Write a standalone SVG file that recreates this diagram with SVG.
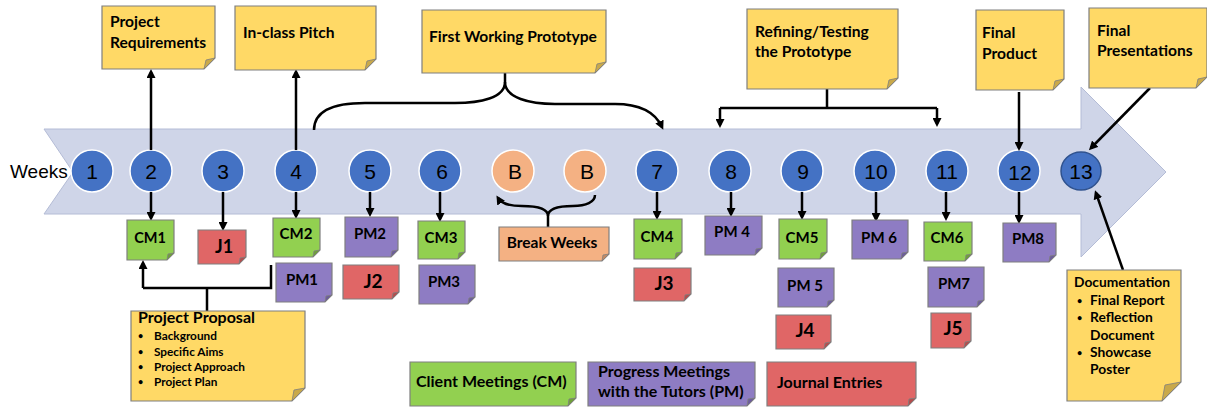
<svg xmlns="http://www.w3.org/2000/svg" width="1207" height="408" viewBox="0 0 1207 408">
<style>
.note{stroke:#7f7f7f;stroke-width:1.2}
.y{fill:#ffd966}.g{fill:#92d050}.p{fill:#8e7cc3}.r{fill:#e06666}.o{fill:#f4b183}
.fold{fill:#c9a94a;stroke:#7f7f7f;stroke-width:0.8}
.gf{fill:#6f9f3a}.pf{fill:#6c5d9a}.rf{fill:#b34d4d}.of{fill:#c48a63}
.t{font-family:Lato,"Liberation Sans",sans-serif;font-weight:bold;fill:#000}
.wk{fill:#4472c4;stroke:#fff;stroke-width:1.5}
.bk{fill:#f4b183;stroke:#fff;stroke-width:1.5}
.num{font-family:"Liberation Sans",Arial,sans-serif;font-size:21px;fill:#000;text-anchor:middle}
.ln{fill:none;stroke:#000;stroke-width:2.5}
.c{text-anchor:middle}
.bul{font-size:9px}
</style>
<defs>
<marker id="ah" markerWidth="9" markerHeight="9" refX="6" refY="4.5" orient="auto" markerUnits="userSpaceOnUse">
<path d="M0,0 L9,4.5 L0,9 z" fill="#000"/>
</marker>
</defs>

<g id="timeline">
<polygon points="44,129 1081,129 1081,87 1166,172 1081,257 1081,214 44,214 73,172" fill="#cfd5e8" stroke="#b4bcd6" stroke-width="1"/>
<text x="10" y="178" font-family="'Liberation Sans',Arial,sans-serif" font-size="19" fill="#000">Weeks</text>
</g>

<g id="weeks">
<g id="w1"><circle class="wk" cx="92" cy="171" r="21"/><text class="num" x="92" y="179">1</text></g>
<g id="w2"><circle class="wk" cx="151" cy="171" r="21"/><text class="num" x="151" y="179">2</text></g>
<g id="w3"><circle class="wk" cx="223" cy="171" r="21"/><text class="num" x="223" y="179">3</text></g>
<g id="w4"><circle class="wk" cx="296" cy="171" r="21"/><text class="num" x="296" y="179">4</text></g>
<g id="w5"><circle class="wk" cx="370" cy="171" r="21"/><text class="num" x="370" y="179">5</text></g>
<g id="w6"><circle class="wk" cx="440" cy="171" r="21"/><text class="num" x="442" y="179">6</text></g>
<g id="b1"><circle class="bk" cx="513" cy="171" r="21"/><text class="num" x="515" y="179">B</text></g>
<g id="b2"><circle class="bk" cx="585" cy="171" r="21"/><text class="num" x="587" y="179">B</text></g>
<g id="w7"><circle class="wk" cx="657" cy="171" r="21"/><text class="num" x="657" y="179">7</text></g>
<g id="w8"><circle class="wk" cx="730" cy="171" r="21"/><text class="num" x="731" y="179">8</text></g>
<g id="w9"><circle class="wk" cx="802" cy="171" r="21"/><text class="num" x="803" y="179">9</text></g>
<g id="w10"><circle class="wk" cx="875" cy="171" r="21"/><text class="num" x="876" y="179">10</text></g>
<g id="w11"><circle class="wk" cx="947" cy="171" r="21"/><text class="num" x="947" y="179">11</text></g>
<g id="w12"><circle class="wk" cx="1019" cy="171" r="21"/><text class="num" x="1020" y="180">12</text></g>
<g id="w13"><ellipse cx="1081" cy="171" rx="20" ry="19" fill="#4472c4" stroke="#2f528f" stroke-width="1.5"/><text class="num" x="1081" y="179">13</text></g>
</g>

<g id="connectors">
<path class="ln" d="M151,150 V72" marker-end="url(#ah)"/>
<path class="ln" d="M296,150 V72" marker-end="url(#ah)"/>
<path class="ln" d="M505,73 V82 C505,98 480,103 455,103 L365,103 C330,103 314,112 314,130"/>
<path class="ln" d="M505,82 C505,98 530,104 555,104 L615,104 C640,104 655,112 662,127" marker-end="url(#ah)"/>
<path class="ln" d="M827,89 V108 M720,108 H937"/>
<path class="ln" d="M720,108 V125" marker-end="url(#ah)"/>
<path class="ln" d="M937,108 V124" marker-end="url(#ah)"/>
<path class="ln" d="M1019,92 V148" marker-end="url(#ah)"/>
<path class="ln" d="M1150,88 L1091,148" marker-end="url(#ah)"/>
<path class="ln" d="M1123,270 L1096,193" marker-end="url(#ah)"/>
<path class="ln" d="M151,192 V218" marker-end="url(#ah)"/>
<path class="ln" d="M223,192 V228" marker-end="url(#ah)"/>
<path class="ln" d="M296,192 V216" marker-end="url(#ah)"/>
<path class="ln" d="M370,192 V214" marker-end="url(#ah)"/>
<path class="ln" d="M440,192 V219" marker-end="url(#ah)"/>
<path class="ln" d="M657,192 V217" marker-end="url(#ah)"/>
<path class="ln" d="M731,192 V214" marker-end="url(#ah)"/>
<path class="ln" d="M802,192 V217" marker-end="url(#ah)"/>
<path class="ln" d="M876,192 V219" marker-end="url(#ah)"/>
<path class="ln" d="M946,192 V218" marker-end="url(#ah)"/>
<path class="ln" d="M1019,192 V221" marker-end="url(#ah)"/>
<path class="ln" d="M207,311 V288 M143,288 H271 V265"/>
<path class="ln" d="M143,288 V263" marker-end="url(#ah)"/>
<path class="ln" d="M548,227 V216 C548,208 535,206 522,206 C509,206 501,203 498,198" marker-end="url(#ah)"/>
<path class="ln" d="M548,216 C548,208 560,206 573,206 C586,206 595,202 595,195"/>
</g>

<g id="note-requirements" transform="translate(102,6)">
<path class="note y" d="M0,0 H113 V52 L102,63 H0 Z"/><path class="fold" d="M113,52 L102,63 L104,54 Z"/>
<text class="t" font-size="15.6" x="8" y="21">Project</text><text class="t" font-size="15.6" x="8" y="42">Requirements</text>
</g>
<g id="note-pitch" transform="translate(235,6)">
<path class="note y" d="M0,0 H141 V53 L130,64 H0 Z"/><path class="fold" d="M141,53 L130,64 L132,55 Z"/>
<text class="t" font-size="15.6" x="8" y="32">In-class Pitch</text>
</g>
<g id="note-prototype" transform="translate(422,10)">
<path class="note y" d="M0,0 H184 V52 L173,63 H0 Z"/><path class="fold" d="M184,52 L173,63 L175,54 Z"/>
<text class="t" font-size="15.6" x="7" y="32">First Working Prototype</text>
</g>
<g id="note-refining" transform="translate(747,9)">
<path class="note y" d="M0,0 H151 V69 L140,80 H0 Z"/><path class="fold" d="M151,69 L140,80 L142,71 Z"/>
<text class="t" font-size="15.6" x="8" y="28">Refining/Testing</text><text class="t" font-size="15.6" x="8" y="48">the Prototype</text>
</g>
<g id="note-final-product" transform="translate(976,10)">
<path class="note y" d="M0,0 H88 V69 L77,80 H0 Z"/><path class="fold" d="M88,69 L77,80 L79,71 Z"/>
<text class="t" font-size="15.6" x="6" y="28">Final</text><text class="t" font-size="15.6" x="6" y="49">Product</text>
</g>
<g id="note-final-presentations" transform="translate(1089,8)">
<path class="note y" d="M0,0 H118 V69 L107,80 H0 Z"/><path class="fold" d="M118,69 L107,80 L109,71 Z"/>
<text class="t" font-size="15.6" x="8" y="28">Final</text><text class="t" font-size="15.6" x="8" y="48">Presentations</text>
</g>

<g id="cm1" transform="translate(127,220)">
<path class="note g" d="M0,0 H47 V33 L40,40 H0 Z"/><path class="fold gf" d="M47,33 L40,40 L41,34 Z"/>
<text class="t c" font-size="14.5" x="23" y="23">CM1</text>
</g>
<g id="j1" transform="translate(198,230)">
<path class="note r" d="M0,0 H48 V27 L41,34 H0 Z"/><path class="fold rf" d="M48,27 L41,34 L42,28 Z"/>
<text class="t c" font-size="18" x="26" y="23">J1</text>
</g>
<g id="cm2" transform="translate(273,218)">
<path class="note g" d="M0,0 H47 V32 L40,39 H0 Z"/><path class="fold gf" d="M47,32 L40,39 L41,33 Z"/>
<text class="t c" font-size="15" x="23" y="21">CM2</text>
</g>
<g id="pm1" transform="translate(276,263)">
<path class="note p" d="M0,0 H56 V32 L49,39 H0 Z"/><path class="fold pf" d="M56,32 L49,39 L50,33 Z"/>
<text class="t c" font-size="15" x="26" y="22">PM1</text>
</g>
<g id="pm2" transform="translate(345,217)">
<path class="note p" d="M0,0 H53 V33 L46,40 H0 Z"/><path class="fold pf" d="M53,33 L46,40 L47,34 Z"/>
<text class="t c" font-size="15" x="25" y="22">PM2</text>
</g>
<g id="j2" transform="translate(343,265)">
<path class="note r" d="M0,0 H56 V27 L49,34 H0 Z"/><path class="fold rf" d="M56,27 L49,34 L50,28 Z"/>
<text class="t c" font-size="19" x="30" y="23">J2</text>
</g>
<g id="cm3" transform="translate(418,221)">
<path class="note g" d="M0,0 H47 V31 L40,38 H0 Z"/><path class="fold gf" d="M47,31 L40,38 L41,32 Z"/>
<text class="t c" font-size="15" x="23" y="22">CM3</text>
</g>
<g id="pm3" transform="translate(419,265)">
<path class="note p" d="M0,0 H56 V32 L49,39 H0 Z"/><path class="fold pf" d="M56,32 L49,39 L50,33 Z"/>
<text class="t c" font-size="15" x="25" y="22">PM3</text>
</g>
<g id="break-weeks" transform="translate(499,227)">
<path class="note o" d="M0,0 H110 V27 L103,34 H0 Z"/><path class="fold of" d="M110,27 L103,34 L104,28 Z"/>
<text class="t c" font-size="15.5" x="53" y="21">Break Weeks</text>
</g>
<g id="cm4" transform="translate(634,219)">
<path class="note g" d="M0,0 H48 V33 L41,40 H0 Z"/><path class="fold gf" d="M48,33 L41,40 L42,34 Z"/>
<text class="t c" font-size="15" x="23" y="23">CM4</text>
</g>
<g id="j3" transform="translate(634,268)">
<path class="note r" d="M0,0 H57 V26 L50,33 H0 Z"/><path class="fold rf" d="M57,26 L50,33 L51,27 Z"/>
<text class="t c" font-size="19" x="30" y="22">J3</text>
</g>
<g id="pm4" transform="translate(705,216)">
<path class="note p" d="M0,0 H57 V32 L50,39 H0 Z"/><path class="fold pf" d="M57,32 L50,39 L51,33 Z"/>
<text class="t c" font-size="15" x="27" y="21">PM 4</text>
</g>
<g id="cm5" transform="translate(779,219)">
<path class="note g" d="M0,0 H48 V33 L41,40 H0 Z"/><path class="fold gf" d="M48,33 L41,40 L42,34 Z"/>
<text class="t c" font-size="15" x="23" y="24">CM5</text>
</g>
<g id="pm5" transform="translate(778,268)">
<path class="note p" d="M0,0 H56 V32 L49,39 H0 Z"/><path class="fold pf" d="M56,32 L49,39 L50,33 Z"/>
<text class="t c" font-size="15" x="27" y="23">PM 5</text>
</g>
<g id="j4" transform="translate(776,315)">
<path class="note r" d="M0,0 H55 V27 L48,34 H0 Z"/><path class="fold rf" d="M55,27 L48,34 L49,28 Z"/>
<text class="t c" font-size="19" x="29" y="22">J4</text>
</g>
<g id="pm6" transform="translate(852,220)">
<path class="note p" d="M0,0 H56 V32 L49,39 H0 Z"/><path class="fold pf" d="M56,32 L49,39 L50,33 Z"/>
<text class="t c" font-size="15" x="27" y="23">PM 6</text>
</g>
<g id="cm6" transform="translate(924,222)">
<path class="note g" d="M0,0 H48 V32 L41,39 H0 Z"/><path class="fold gf" d="M48,32 L41,39 L42,33 Z"/>
<text class="t c" font-size="15" x="23" y="21">CM6</text>
</g>
<g id="pm7" transform="translate(928,267)">
<path class="note p" d="M0,0 H56 V33 L49,40 H0 Z"/><path class="fold pf" d="M56,33 L49,40 L50,34 Z"/>
<text class="t c" font-size="15" x="26" y="22">PM7</text>
</g>
<g id="j5" transform="translate(931,313)">
<path class="note r" d="M0,0 H40 V28 L33,35 H0 Z"/><path class="fold rf" d="M40,28 L33,35 L34,29 Z"/>
<text class="t c" font-size="19" x="22" y="22">J5</text>
</g>
<g id="pm8" transform="translate(1003,223)">
<path class="note p" d="M0,0 H53 V32 L46,39 H0 Z"/><path class="fold pf" d="M53,32 L46,39 L47,33 Z"/>
<text class="t c" font-size="15" x="25" y="21">PM8</text>
</g>

<g id="note-proposal" transform="translate(131,311)">
<path class="note y" d="M0,0 H174 V77 L161,90 H0 Z"/><path class="fold" d="M174,77 L161,90 L163,79 Z"/>
<text class="t" font-size="16" x="7" y="12">Project Proposal</text>
<g font-size="11.8" class="t">
<text class="bul" x="7" y="28">•</text><text x="23" y="29">Background</text>
<text class="bul" x="7" y="44">•</text><text x="23" y="45">Specific Aims</text>
<text class="bul" x="7" y="59">•</text><text x="23" y="60">Project Approach</text>
<text class="bul" x="7" y="74">•</text><text x="23" y="75">Project Plan</text>
</g>
</g>

<g id="note-documentation" transform="translate(1067,270)">
<path class="note y" d="M0,0 H114 V112 L95,131 H0 Z"/><path class="fold" d="M114,112 L95,131 L98,115 Z"/>
<g font-size="13.8" class="t">
<text x="7" y="17">Documentation</text>
<text class="bul" x="10" y="34">•</text><text x="23" y="35">Final Report</text>
<text class="bul" x="10" y="51">•</text><text x="23" y="52">Reflection</text>
<text x="23" y="70">Document</text>
<text class="bul" x="10" y="86">•</text><text x="23" y="87">Showcase</text>
<text x="23" y="104">Poster</text>
</g>
</g>

<g id="legend">
<g id="legend-cm" transform="translate(410,362)">
<path class="note g" d="M0,0 H166 V36 L158,44 H0 Z"/><path class="fold gf" d="M166,36 L158,44 L159,37 Z"/>
<text class="t" font-size="16" x="6" y="25">Client Meetings (CM)</text>
</g>
<g id="legend-pm" transform="translate(588,362)">
<path class="note p" d="M0,0 H167 V36 L159,44 H0 Z"/><path class="fold pf" d="M167,36 L159,44 L160,37 Z"/>
<text class="t" font-size="16" x="10" y="15">Progress Meetings</text>
<text class="t" font-size="16" x="10" y="35">with the Tutors (PM)</text>
</g>
<g id="legend-j" transform="translate(767,362)">
<path class="note r" d="M0,0 H149 V36 L141,44 H0 Z"/><path class="fold rf" d="M149,36 L141,44 L142,37 Z"/>
<text class="t" font-size="16" x="10" y="26">Journal Entries</text>
</g>
</g>
</svg>
